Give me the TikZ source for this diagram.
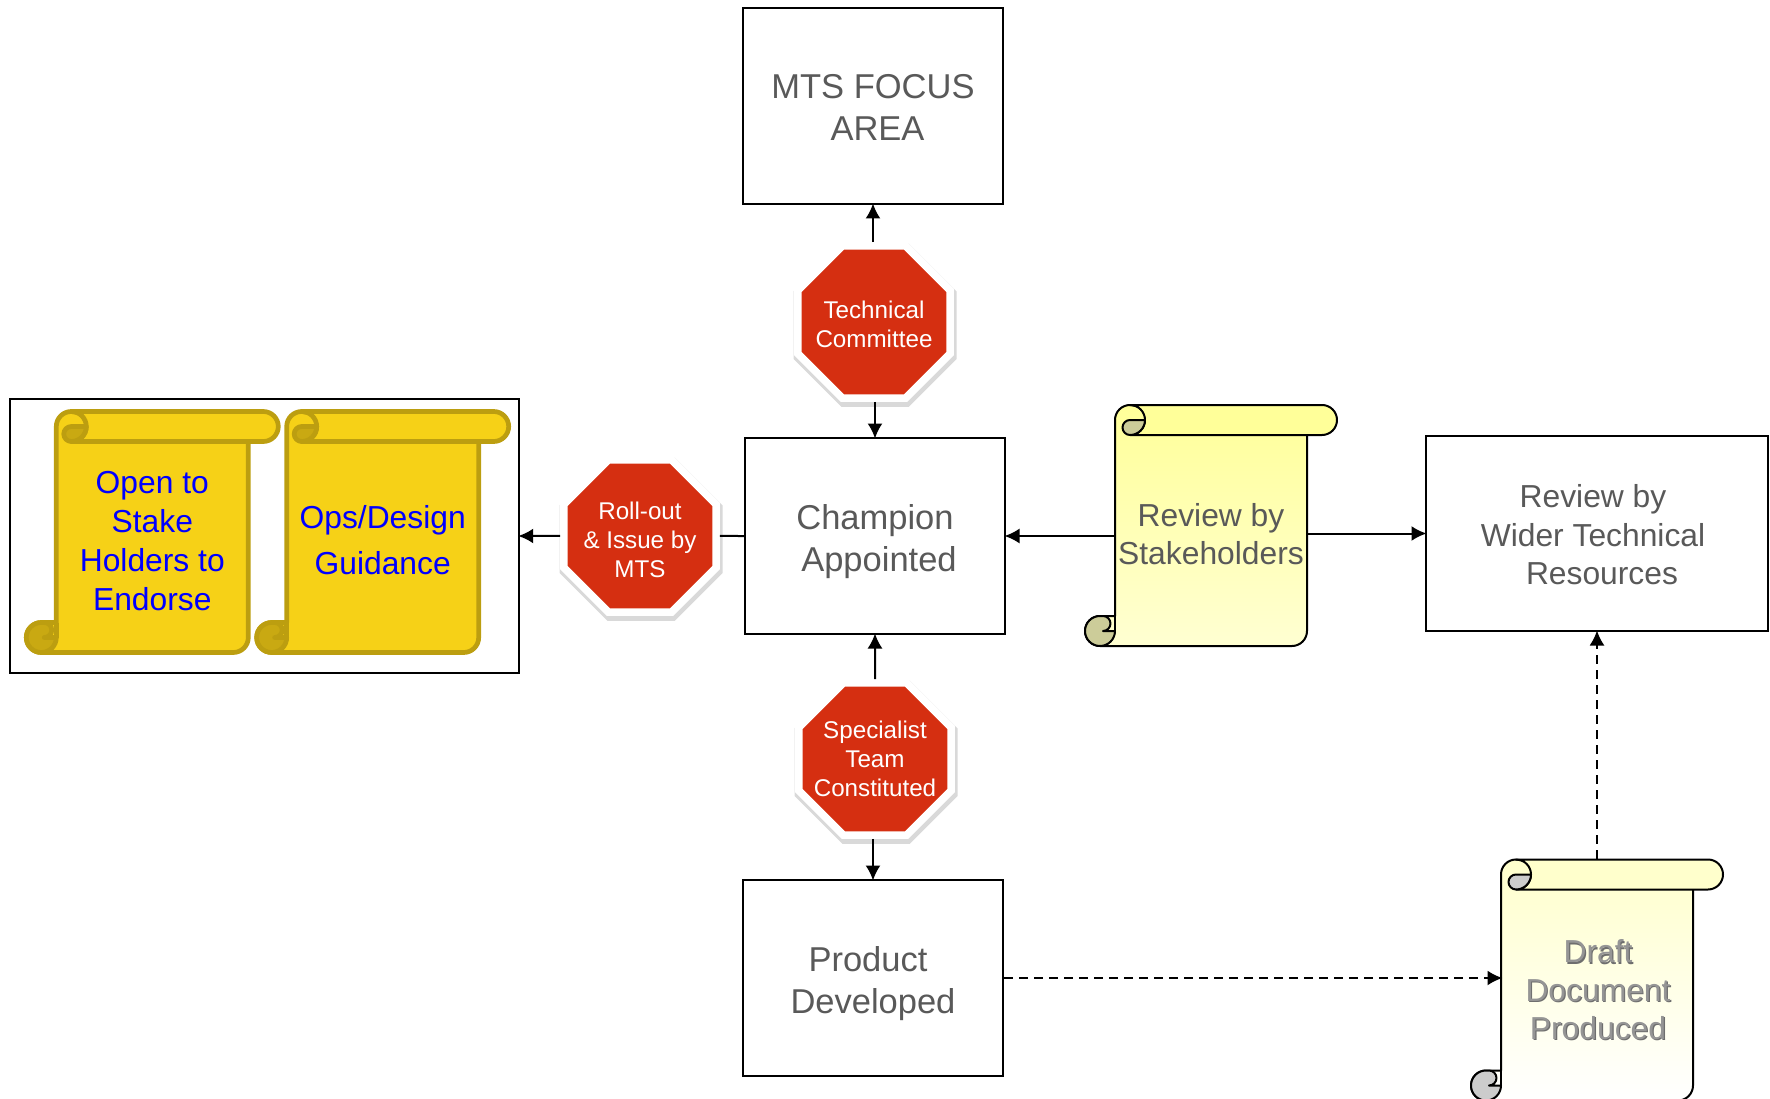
\documentclass[tikz,border=0pt]{standalone}
\usepackage{fontspec}
\setmainfont{Liberation Sans}
\usetikzlibrary{shapes.geometric,shadows,backgrounds,arrows.meta}
\definecolor{labelgrey}{HTML}{595959}
\definecolor{stopred}{HTML}{D52F11}
\definecolor{goldfill}{HTML}{F6D117}
\definecolor{goldedge}{HTML}{BC9E10}
\definecolor{goldcurl}{HTML}{C9A912}
\definecolor{paleyellow}{HTML}{FFFF99}
\definecolor{paleend}{HTML}{FFFFD2}
\definecolor{creamtop}{HTML}{FFFFCC}
\definecolor{olivecurl}{HTML}{CCCC99}
\definecolor{greycurl}{HTML}{CCCCCC}
\definecolor{draftgrey}{HTML}{959595}
\definecolor{draftback}{HTML}{6E6E6E}
\newcommand{\draftline}[1]{\rlap{\kern1.2pt\raisebox{-1.2pt}{\textcolor{draftback}{#1}}}#1}
\begin{document}
\begin{tikzpicture}[x=1pt,y=1pt,>={Latex[length=15pt,width=15pt]},line width=2pt,
    box/.style={draw,text=labelgrey,align=center,minimum width=260pt,minimum height=196pt,inner sep=0pt,
      node font=\fontsize{34.5}{42}\selectfont},
    stopsign/.style={regular polygon,regular polygon sides=8,minimum size=165pt,inner sep=-12pt,
      fill=stopred,draw=white,line width=7.5pt,text=white,align=center,
      drop shadow={shadow xshift=1pt,shadow yshift=-3pt,shadow scale=1.07,opacity=.3},
      node font=\fontsize{24.2}{29}\selectfont},
    scrollnode/.style={align=center,minimum height=241pt,inner sep=0pt,
      node font=\fontsize{31.8}{38.4}\selectfont},
    arrowline/.style={->,shorten >=-1.5pt},
    dashline/.style={arrowline,dash pattern=on 9pt off 6pt}]
    \useasboundingbox (-875,536) rectangle (895,-562);
    \node [box] (champion) {\rule{0pt}{36pt}Champion\\\hspace*{8pt}Appointed};
    \node [box,node distance=430pt,above of=champion,xshift=-2pt] (focus) {\rule{0pt}{27pt}MTS FOCUS\\\hspace*{9pt}AREA};
    \node [box,node distance=442pt,below of=champion,xshift=-2pt] (product) {\rule{0pt}{36pt}Product\hspace*{10pt}\\Developed};
    \node [box,node distance=722pt,right of=champion,yshift=2.5pt,minimum width=342pt,minimum height=195pt,
      node font=\fontsize{31.8}{38.4}\selectfont] (wider)
      {\rule{0pt}{26pt}Review by\hspace*{8pt}\\\hbox{Wider Technical\kern8pt}\\\hspace*{10pt}Resources};
    \node [stopsign,node distance=214pt,above of=champion,xshift=-1pt] (technical) {\rule{0pt}{23pt}Technical\\Committee};
    \node [stopsign,node distance=223pt,below of=champion] (specialist) {Specialist\\Team\\Constituted};
    \node [stopsign,node distance=235pt,left of=champion] (rollout) {\rule{0pt}{25pt}Roll-out\\\& Issue by\\MTS};
    \node [scrollnode,minimum width=190pt,node distance=336pt,right of=champion,yshift=10.5pt,text=labelgrey] (review)
      {\rule{0pt}{40pt}Review by\\Stakeholders};
    \node [scrollnode,minimum width=190pt,node distance=444pt,below of=champion,xshift=722pt,text=draftgrey] (draft)
      {\rule{0pt}{44pt}\hspace*{2pt}\draftline{Draft}\\\hspace*{2pt}\draftline{Document}\\\hspace*{2pt}\draftline{Produced}};
    \node [scrollnode,minimum width=190pt,node distance=722.7pt,left of=champion,yshift=4pt,text=blue,
      node font=\fontsize{31.8}{38.8}\selectfont] (endorse)
      {\rule{0pt}{40pt}Open to\\Stake\\Holders to\\Endorse};
    \node [scrollnode,minimum width=190pt,node distance=492.3pt,left of=champion,yshift=4pt,text=blue,
      node font=\fontsize{31.8}{45.7}\selectfont] (guidance)
      {\rule{0pt}{39pt}Ops/Design\\Guidance};
    \node [draw,minimum width=508.5pt,minimum height=274pt,node distance=610.5pt,left of=champion] (issued) {};
    \begin{scope}[on background layer]
    \foreach \n/\topcol/\botcol/\barcol/\curlcol/\edgecol/\lw in {
        endorse/goldfill/goldfill/goldfill/goldcurl/goldedge/4.7pt,
        guidance/goldfill/goldfill/goldfill/goldcurl/goldedge/4.7pt,
        review/paleyellow/paleend/paleyellow/olivecurl/black/2pt,
        draft/creamtop/white/creamtop/greycurl/black/2pt}{
      \begin{scope}[shift={(\n.center)},line width=\lw,draw=\edgecol,line join=round]
        \path (\n.west) ++(0,120.5) coordinate (tl);
        \path (\n.east) ++(0,-120.5) coordinate (br);
        \path (\n.west) ++(0,-120.5) coordinate (bl);
        \draw [top color=\topcol,bottom color=\botcol]
          (tl) ++(15,0) arc (90:180:15pt) -- ([yshift=30pt]bl) -- ([xshift=-15pt,yshift=30pt]bl)
          arc (90:270:15pt) -- ([xshift=-15pt]br) arc (-90:0:15pt) -- ([yshift=215pt]br) -- cycle;
        \draw [fill=\curlcol] ([xshift=-15pt,yshift=30pt]bl) arc (90:360:15pt) -- ([xshift=-12pt,yshift=15pt]bl)
          arc (-90:90:7.5pt) -- cycle;
        \draw ([yshift=30pt]bl) -- ([yshift=15pt]bl);
        \draw [fill=\barcol] ([xshift=15pt]tl) -- ([xshift=15pt,yshift=241pt]br) arc (90:-90:15pt)
          -- ([xshift=15pt,yshift=-30pt]tl) arc (-90:90:15pt) -- cycle;
        \draw [fill=\curlcol] ([xshift=15pt,yshift=-15pt]tl) -- ([xshift=30pt,yshift=-15pt]tl) arc (0:-90:15pt)
          arc (270:90:7.5pt) -- cycle;
      \end{scope}
    }
    \end{scope}
    \draw [arrowline] (technical.north -| focus) -- (focus.south);
    \draw [arrowline] (technical.south -| champion) -- (champion.north);
    \draw (champion.west) -- (rollout.east);
    \draw [arrowline] (rollout.west) -- (rollout -| issued.east);
    \draw [arrowline] (specialist.north) -- (champion.south);
    \draw [arrowline] (specialist.south -| product) -- (product.north);
    \draw [arrowline] (champion -| review.west) -- (champion.east);
    \draw [arrowline] (wider -| review.east) -- (wider.west);
    \draw [dashline] (product.east) -- (product -| draft.west);
    \draw [dashline] (draft.north) -- (draft.north |- wider.south);
\end{tikzpicture}
\end{document}
